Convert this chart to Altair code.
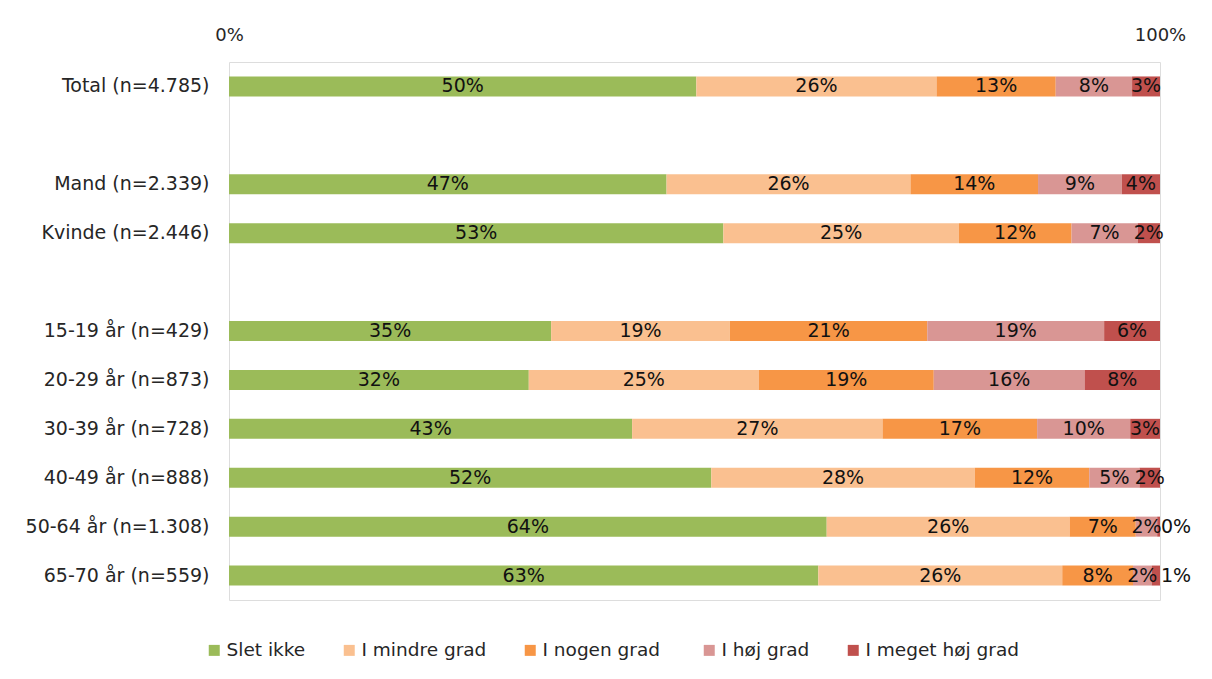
import altair as alt
import pandas as pd

categories = ["Total (n=4.785)", "Mand (n=2.339)", "Kvinde (n=2.446)",
              "15-19 år (n=429)", "20-29 år (n=873)", "30-39 år (n=728)",
              "40-49 år (n=888)", "50-64 år (n=1.308)", "65-70 år (n=559)"]
# row order including two blank spacer rows
row_order = ["Total (n=4.785)", " ", "Mand (n=2.339)", "Kvinde (n=2.446)", "  ",
             "15-19 år (n=429)", "20-29 år (n=873)", "30-39 år (n=728)",
             "40-49 år (n=888)", "50-64 år (n=1.308)", "65-70 år (n=559)"]

series = ["Slet ikke", "I mindre grad", "I  nogen grad", "I høj grad", "I meget høj grad"]
colors = ["#9BBB59", "#FAC090", "#F79646", "#D99694", "#C0504D"]

slet_ikke = [50.2, 47.0, 53.1, 34.6, 32.2, 43.3, 51.8, 64.2, 63.3]
mindre_grad = [25.8, 26.2, 25.3, 19.2, 24.7, 26.9, 28.3, 26.1, 26.2]
nogen_grad = [12.8, 13.7, 12.1, 21.2, 18.8, 16.6, 12.3, 7.1, 7.6]
hoej_grad = [8.2, 9.0, 7.1, 19.0, 16.2, 10.0, 5.4, 2.3, 2.0]
meget_hoej = [3.0, 4.1, 2.4, 6.0, 8.1, 3.2, 2.2, 0.3, 0.9]

values = [slet_ikke, mindre_grad, nogen_grad, hoej_grad, meget_hoej]

rows = []
for si, (s, vals) in enumerate(zip(series, values)):
    for c, v in zip(categories, vals):
        rows.append({"category": c, "series": s, "order": si, "value": v})
df = pd.DataFrame(rows)

FONT = "DejaVu Sans"
LEGEND_FONT = "DejaVu Sans"

base = alt.Chart(df).transform_stack(
    stack="value", groupby=["category"], as_=["x0", "x1"],
    offset="normalize", sort=[alt.SortField("order", order="ascending")]
).transform_calculate(
    pct="datum.value / 100",
    mid="(datum.x0 + datum.x1) / 2"
)

yenc = alt.Y("category:N", scale=alt.Scale(domain=row_order, paddingInner=0, paddingOuter=0),
             axis=alt.Axis(title=None, ticks=False, domain=False, labelPadding=20,
                           labelLimit=400,
                           labelFont=FONT, labelFontSize=19, labelColor="#262626"))

bars = base.mark_bar(size=20).encode(
    x=alt.X("x0:Q", scale=alt.Scale(domain=[0, 1], nice=False),
            axis=alt.Axis(orient="top", title=None, values=[0, 1], format=".0%",
                          ticks=False, domain=False, grid=False, labelPadding=18,
                          labelFlush=False,
                          labelFont=FONT, labelFontSize=18, labelColor="#262626")),
    x2="x1:Q",
    y=yenc,
    color=alt.Color("series:N", scale=alt.Scale(domain=series, range=colors),
                    legend=alt.Legend(title=None, orient="none", legendX=-24, legendY=579,
                                      direction="horizontal", columns=5,
                                      symbolType="square", symbolSize=121,
                                      symbolStrokeWidth=0, labelFont=LEGEND_FONT,
                                      labelFontSize=18.5, labelColor="#262626",
                                      labelLimit=400,
                                      columnPadding=34, labelOffset=3)),
)

labels_in = base.transform_filter("datum.value >= 1.5").mark_text(
    font=FONT, fontSize=19, color="#111111", align="center", baseline="middle"
).encode(
    x=alt.X("mid:Q"),
    y=alt.Y("category:N", scale=alt.Scale(domain=row_order)),
    text=alt.Text("pct:Q", format=".0%"),
)

labels_out = base.transform_filter("datum.value < 1.5").mark_text(
    font=FONT, fontSize=19, color="#111111", align="left", baseline="middle", dx=1
).encode(
    x=alt.X("x1:Q"),
    y=alt.Y("category:N", scale=alt.Scale(domain=row_order)),
    text=alt.Text("pct:Q", format=".0%"),
)

chart = alt.layer(bars, labels_in, labels_out).properties(
    width=931, height=538,
    autosize=alt.AutoSizeParams(type="none"),
    padding={"left": 221, "top": 54, "right": 44, "bottom": 71},
).configure_view(stroke="#B4B4B4", strokeWidth=1.5).configure(background="white")

chart.save("out.html", embed_options={"renderer": "svg", "actions": False})
